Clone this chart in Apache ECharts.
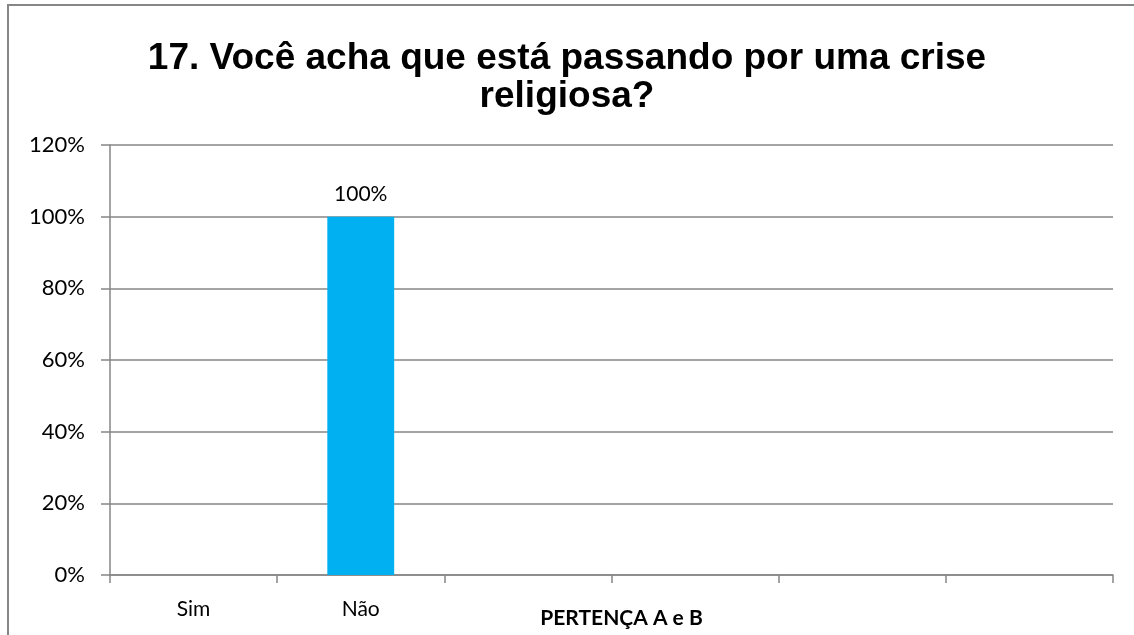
<!DOCTYPE html>
<html>
<head>
<meta charset="utf-8">
<script src="https://cdn.jsdelivr.net/npm/echarts@6/dist/echarts.min.js"></script>
<style>
html,body{margin:0;padding:0;background:#fff;}
#chart{width:1134px;height:635px;}
</style>
</head>
<body>
<div id="chart"></div>
<script>
const titleText = "17. Você acha que está passando por uma crise\nreligiosa?";
const categories = ["Sim", "Não", "", "", "", ""];
const values = [null, 1.0, null, null, null, null];
const yTicks = [0, 0.2, 0.4, 0.6, 0.8, 1.0, 1.2];
const axisName = "PERTENÇA A e B";

const chart = echarts.init(document.getElementById('chart'), null, {renderer: 'canvas'});
const axisColor = '#868686';
const labelFont = 'Lato, Open Sans, sans-serif';
const option = {
  backgroundColor: '#ffffff',
  animation: false,
  graphic: [{
    type: 'rect',
    shape: {x: 8, y: 5, width: 2000, height: 2000},
    style: {fill: 'none', stroke: axisColor, lineWidth: 2},
    silent: true
  }],
  title: {
    text: titleText,
    left: 'center',
    top: 35,
    textStyle: {
      fontFamily: 'Liberation Sans, Arial, sans-serif',
      fontWeight: 'bold',
      fontSize: 37,
      lineHeight: 38,
      color: '#000'
    }
  },
  grid: {left: 110, right: 21, top: 145, bottom: 60, containLabel: false, outerBoundsMode: 'none'},
  xAxis: {
    type: 'category',
    data: categories,
    boundaryGap: true,
    name: axisName,
    nameLocation: 'middle',
    nameGap: 33,
    nameMoveOverlap: false,
    nameTextStyle: {fontFamily: labelFont, fontWeight: 'bold', fontSize: 21, color: '#000', padding: [0, 0, 0, 20]},
    axisLine: {show: true, lineStyle: {color: axisColor, width: 1.5}},
    axisTick: {show: true, length: 8, alignWithLabel: false, lineStyle: {color: axisColor, width: 1.5}},
    axisLabel: {margin: 24, fontFamily: labelFont, fontSize: 21, color: '#000'},
    splitLine: {show: false}
  },
  yAxis: {
    type: 'value',
    min: 0,
    max: 1.2,
    interval: 0.2,
    axisLine: {show: true, lineStyle: {color: axisColor, width: 1.5}},
    axisTick: {show: true, length: 9, lineStyle: {color: axisColor, width: 1.5}},
    axisLabel: {
      margin: 25,
      fontFamily: labelFont,
      fontSize: 22,
      color: '#000',
      formatter: function (v) { return Math.round(v * 100) + '%'; }
    },
    splitLine: {show: true, lineStyle: {color: axisColor, width: 1.5}}
  },
  series: [{
    type: 'bar',
    data: values,
    barWidth: '40%',
    itemStyle: {color: '#00B0F0'},
    label: {
      show: true,
      position: 'top',
      distance: 12,
      fontFamily: labelFont,
      fontSize: 21,
      color: '#000',
      formatter: function (p) { return p.value == null ? '' : Math.round(p.value * 100) + '%'; }
    }
  }]
};
chart.setOption(option);
</script>
</body>
</html>
